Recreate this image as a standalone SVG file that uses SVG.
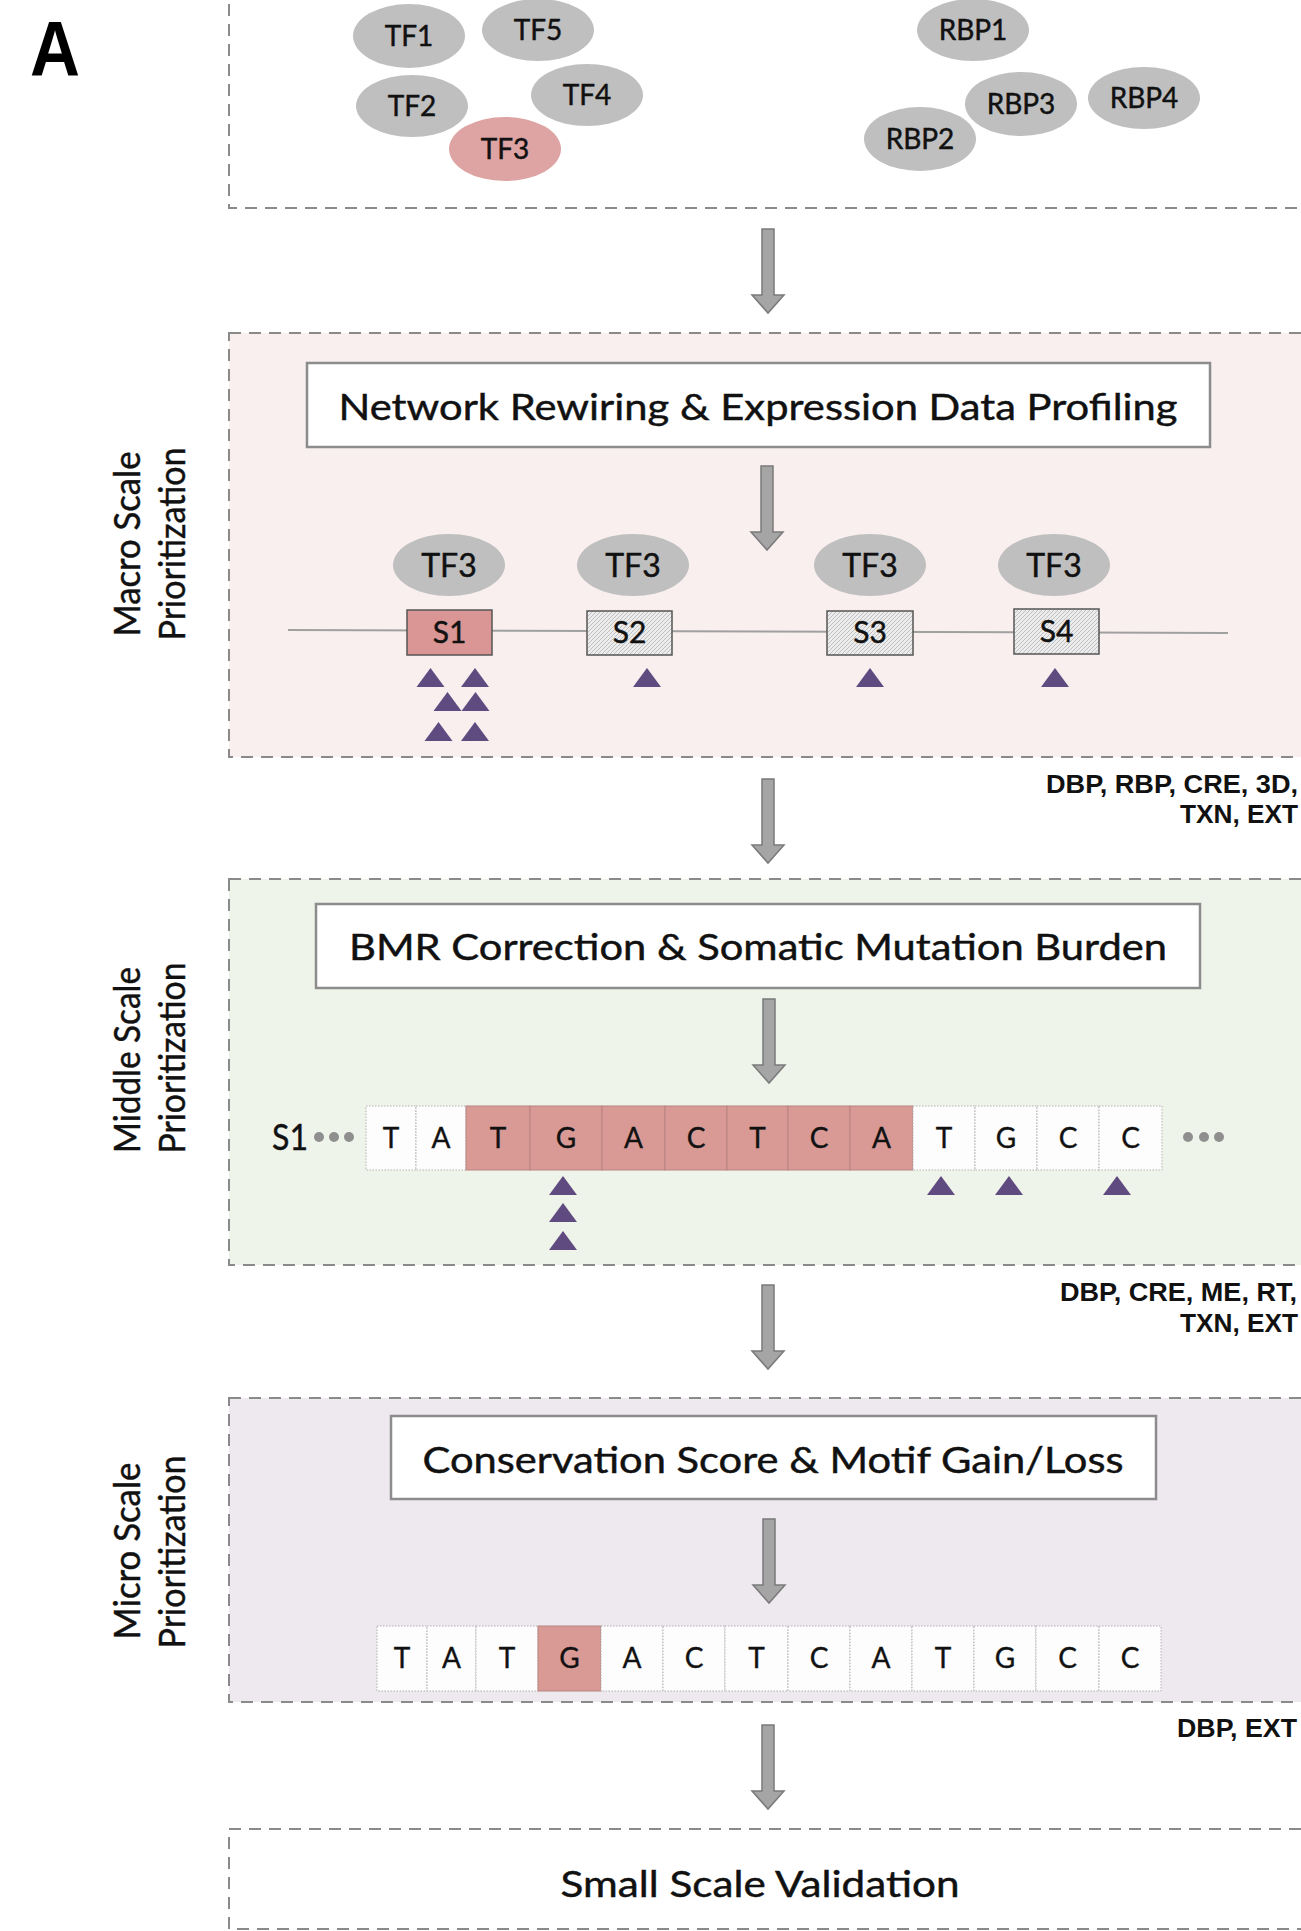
<svg xmlns="http://www.w3.org/2000/svg" xmlns:xlink="http://www.w3.org/1999/xlink" width="1301" height="1931" viewBox="0 0 1301 1931">
<style>
.panel{stroke:#8a8a8a;stroke-width:2;stroke-dasharray:12 8}
.title{fill:#fff;stroke:#8c8c8c;stroke-width:2.5}
.t{font-family:Lato,"Open Sans",sans-serif;fill:#111;stroke:#111;stroke-width:0.45}
.mid{text-anchor:middle}
.ell{fill:#bfbfbf}
.pinkell{fill:#dea3a3}
.side{font-family:"Liberation Sans",Arial,sans-serif;font-weight:bold;font-size:25px;text-anchor:end;fill:#111}
.cellw{fill:#fdfdfd;stroke:#b0b0b0;stroke-width:1;stroke-dasharray:1.5 1.5}
.cellp{fill:#d99a96;stroke:#b88480;stroke-width:1}
.seq{font-family:Lato,"Open Sans",sans-serif;font-size:28px;text-anchor:middle;fill:#111;stroke:#111;stroke-width:0.35}
.tri{fill:#5f4b80}
.dot{fill:#8f8f8f}
.arr{fill:#a5a5a5;stroke:#7a7a7a;stroke-width:1.5}
</style>
<defs>
<path id="arrow" d="M -6 0 H 6 V 66 H 16 L 0 84 L -16 66 H -6 Z"/>
<path id="tri" d="M -14 19 L 0 0 L 14 19 Z"/>
<pattern id="hatch" patternUnits="userSpaceOnUse" width="4" height="4">
<rect width="4" height="4" fill="#ececec"/>
<path d="M -1 1 L 1 -1 M 0 4 L 4 0 M 3 5 L 5 3" stroke="#b5b5b5" stroke-width="0.8"/>
</pattern>
</defs>
<rect width="1301" height="1931" fill="#fff"/>

<text x="30" y="76" font-family="Liberation Sans,Arial,sans-serif" font-weight="bold" font-size="78" textLength="50" lengthAdjust="spacingAndGlyphs" fill="#000">A</text>

<!-- panels -->
<g id="panel-top">
<rect class="panel" x="229" y="-20" width="1100" height="228" fill="#fff"/>
</g>
<g id="panel-macro">
<rect class="panel" x="229" y="333" width="1100" height="424" fill="#f9efef"/>
</g>
<g id="panel-middle">
<rect class="panel" x="229" y="879" width="1100" height="386" fill="#eff4ea"/>
</g>
<g id="panel-micro">
<rect class="panel" x="229" y="1398" width="1100" height="304" fill="#eee9ef"/>
</g>
<g id="panel-validation">
<rect class="panel" x="229" y="1829" width="1100" height="100" fill="#fff"/>
<text class="t mid" x="760" y="1897" font-size="37" textLength="399" lengthAdjust="spacingAndGlyphs">Small Scale Validation</text>
</g>

<!-- top proteins -->
<g id="tf1"><ellipse class="ell" cx="409" cy="36" rx="56" ry="32"/><text class="t mid" x="409" y="46" font-size="28">TF1</text></g>
<g id="tf5"><ellipse class="ell" cx="538" cy="30" rx="56" ry="31"/><text class="t mid" x="538" y="40" font-size="28">TF5</text></g>
<g id="tf2"><ellipse class="ell" cx="412" cy="106" rx="56" ry="31"/><text class="t mid" x="412" y="116" font-size="28">TF2</text></g>
<g id="tf4"><ellipse class="ell" cx="587" cy="95" rx="56" ry="31"/><text class="t mid" x="587" y="105" font-size="28">TF4</text></g>
<g id="tf3"><ellipse class="pinkell" cx="505" cy="149" rx="56" ry="32"/><text class="t mid" x="505" y="159" font-size="28">TF3</text></g>
<g id="rbp1"><ellipse class="ell" cx="973" cy="30" rx="56" ry="31"/><text class="t mid" x="973" y="40" font-size="28">RBP1</text></g>
<g id="rbp3"><ellipse class="ell" cx="1021" cy="104" rx="56" ry="32"/><text class="t mid" x="1021" y="114" font-size="28">RBP3</text></g>
<g id="rbp4"><ellipse class="ell" cx="1144" cy="98" rx="56" ry="31"/><text class="t mid" x="1144" y="108" font-size="28">RBP4</text></g>
<g id="rbp2"><ellipse class="ell" cx="920" cy="139" rx="56" ry="32"/><text class="t mid" x="920" y="149" font-size="28">RBP2</text></g>

<!-- side labels -->
<g id="label-macro">
<text class="t mid" transform="translate(140,544) rotate(-90)" font-size="36" textLength="185" lengthAdjust="spacingAndGlyphs">Macro Scale</text>
<text class="t mid" transform="translate(185,544) rotate(-90)" font-size="36" textLength="193" lengthAdjust="spacingAndGlyphs">Prioritization</text>
</g>
<g id="label-middle">
<text class="t mid" transform="translate(140,1060) rotate(-90)" font-size="36" textLength="186" lengthAdjust="spacingAndGlyphs">Middle Scale</text>
<text class="t mid" transform="translate(185,1058) rotate(-90)" font-size="36" textLength="191" lengthAdjust="spacingAndGlyphs">Prioritization</text>
</g>
<g id="label-micro">
<text class="t mid" transform="translate(140,1551) rotate(-90)" font-size="36" textLength="177" lengthAdjust="spacingAndGlyphs">Micro Scale</text>
<text class="t mid" transform="translate(185,1552) rotate(-90)" font-size="36" textLength="193" lengthAdjust="spacingAndGlyphs">Prioritization</text>
</g>

<!-- right annotations -->
<g id="annot-macro">
<text class="side" x="1298" y="793" textLength="252" lengthAdjust="spacingAndGlyphs">DBP, RBP, CRE, 3D,</text>
<text class="side" x="1298" y="823" textLength="118" lengthAdjust="spacingAndGlyphs">TXN, EXT</text>
</g>
<g id="annot-middle">
<text class="side" x="1297" y="1301" textLength="237" lengthAdjust="spacingAndGlyphs">DBP, CRE, ME, RT,</text>
<text class="side" x="1298" y="1332" textLength="118" lengthAdjust="spacingAndGlyphs">TXN, EXT</text>
</g>
<g id="annot-micro">
<text class="side" x="1297" y="1737" textLength="120" lengthAdjust="spacingAndGlyphs">DBP, EXT</text>
</g>

<!-- macro content -->
<g id="title-macro">
<rect class="title" x="307" y="363" width="903" height="84"/>
<text class="t mid" x="758" y="420" font-size="37" textLength="839" lengthAdjust="spacingAndGlyphs">Network Rewiring &amp; Expression Data Profiling</text>
</g>
<line x1="288" y1="630" x2="1228" y2="633" stroke="#a0a0a0" stroke-width="2"/>
<g id="tf3-s1"><ellipse class="ell" cx="449" cy="565" rx="56" ry="31"/><text class="t mid" x="449" y="577" font-size="32">TF3</text></g>
<g id="tf3-s2"><ellipse class="ell" cx="633" cy="565" rx="56" ry="31"/><text class="t mid" x="633" y="577" font-size="32">TF3</text></g>
<g id="tf3-s3"><ellipse class="ell" cx="870" cy="565" rx="56" ry="31"/><text class="t mid" x="870" y="577" font-size="32">TF3</text></g>
<g id="tf3-s4"><ellipse class="ell" cx="1054" cy="565" rx="56" ry="31"/><text class="t mid" x="1054" y="577" font-size="32">TF3</text></g>
<g id="s1"><rect x="407" y="610" width="85" height="45" fill="#d99694" stroke="#555" stroke-width="1.5"/><text class="t mid" x="449.5" y="643" font-size="30">S1</text></g>
<g id="s2"><rect x="587" y="611" width="85" height="44" fill="url(#hatch)" stroke="#555" stroke-width="1.5"/><text class="t mid" x="629.5" y="643" font-size="30">S2</text></g>
<g id="s3"><rect x="827" y="611" width="86" height="44" fill="url(#hatch)" stroke="#555" stroke-width="1.5"/><text class="t mid" x="870" y="643" font-size="30">S3</text></g>
<g id="s4"><rect x="1014" y="609" width="85" height="45" fill="url(#hatch)" stroke="#555" stroke-width="1.5"/><text class="t mid" x="1056.5" y="642" font-size="30">S4</text></g>
<g id="mutations-macro" class="tri">
<use href="#tri" x="430.5" y="668"/><use href="#tri" x="475" y="668"/>
<use href="#tri" x="447.5" y="692"/><use href="#tri" x="475.5" y="692"/>
<use href="#tri" x="438.5" y="722"/><use href="#tri" x="475" y="722"/>
<use href="#tri" x="647" y="668"/>
<use href="#tri" x="870" y="668"/>
<use href="#tri" x="1055" y="668"/>
</g>

<!-- middle content -->
<g id="title-middle">
<rect class="title" x="316" y="904" width="884" height="84"/>
<text class="t mid" x="758" y="960" font-size="37" textLength="818" lengthAdjust="spacingAndGlyphs">BMR Correction &amp; Somatic Mutation Burden</text>
</g>
<g id="seq-middle">
<text class="t" x="272" y="1150" font-size="36" textLength="36" lengthAdjust="spacingAndGlyphs">S1</text>
<circle class="dot" cx="319" cy="1137" r="5"/><circle class="dot" cx="334" cy="1137" r="5"/><circle class="dot" cx="349" cy="1137" r="5"/>
<rect class="cellw" x="366" y="1106" width="50" height="64"/>
<rect class="cellw" x="416" y="1106" width="50" height="64"/>
<rect class="cellp" x="466" y="1106" width="64" height="64"/>
<rect class="cellp" x="530" y="1106" width="72" height="64"/>
<rect class="cellp" x="602" y="1106" width="63" height="64"/>
<rect class="cellp" x="665" y="1106" width="62" height="64"/>
<rect class="cellp" x="727" y="1106" width="61" height="64"/>
<rect class="cellp" x="788" y="1106" width="62" height="64"/>
<rect class="cellp" x="850" y="1106" width="63" height="64"/>
<rect class="cellw" x="913" y="1106" width="62" height="64"/>
<rect class="cellw" x="975" y="1106" width="62" height="64"/>
<rect class="cellw" x="1037" y="1106" width="62" height="64"/>
<rect class="cellw" x="1099" y="1106" width="63" height="64"/>
<text class="seq" x="391" y="1148">T</text>
<text class="seq" x="441" y="1148">A</text>
<text class="seq" x="498" y="1148">T</text>
<text class="seq" x="566" y="1148">G</text>
<text class="seq" x="633.5" y="1148">A</text>
<text class="seq" x="696" y="1148">C</text>
<text class="seq" x="757.5" y="1148">T</text>
<text class="seq" x="819" y="1148">C</text>
<text class="seq" x="881.5" y="1148">A</text>
<text class="seq" x="944" y="1148">T</text>
<text class="seq" x="1006" y="1148">G</text>
<text class="seq" x="1068" y="1148">C</text>
<text class="seq" x="1130.5" y="1148">C</text>
<circle class="dot" cx="1188" cy="1137" r="5"/><circle class="dot" cx="1204" cy="1137" r="5"/><circle class="dot" cx="1219" cy="1137" r="5"/>
</g>
<g id="mutations-middle" class="tri">
<use href="#tri" x="563" y="1176"/><use href="#tri" x="563" y="1203"/><use href="#tri" x="563" y="1231"/>
<use href="#tri" x="941" y="1176"/>
<use href="#tri" x="1009" y="1176"/>
<use href="#tri" x="1117" y="1176"/>
</g>

<!-- micro content -->
<g id="title-micro">
<rect class="title" x="391" y="1416" width="765" height="83"/>
<text class="t mid" x="773" y="1473" font-size="37" textLength="701" lengthAdjust="spacingAndGlyphs">Conservation Score &amp; Motif Gain/Loss</text>
</g>
<g id="seq-micro">
<rect class="cellw" x="377" y="1626" width="50" height="65"/>
<rect class="cellw" x="427" y="1626" width="49" height="65"/>
<rect class="cellw" x="476" y="1626" width="62" height="65"/>
<rect class="cellp" x="538" y="1626" width="63" height="65"/>
<rect class="cellw" x="601" y="1626" width="62" height="65"/>
<rect class="cellw" x="663" y="1626" width="62" height="65"/>
<rect class="cellw" x="725" y="1626" width="63" height="65"/>
<rect class="cellw" x="788" y="1626" width="62" height="65"/>
<rect class="cellw" x="850" y="1626" width="62" height="65"/>
<rect class="cellw" x="912" y="1626" width="62" height="65"/>
<rect class="cellw" x="974" y="1626" width="62" height="65"/>
<rect class="cellw" x="1036" y="1626" width="63" height="65"/>
<rect class="cellw" x="1099" y="1626" width="62" height="65"/>
<text class="seq" x="402" y="1668">T</text>
<text class="seq" x="451.5" y="1668">A</text>
<text class="seq" x="507" y="1668">T</text>
<text class="seq" x="569.5" y="1668">G</text>
<text class="seq" x="632" y="1668">A</text>
<text class="seq" x="694" y="1668">C</text>
<text class="seq" x="756.5" y="1668">T</text>
<text class="seq" x="819" y="1668">C</text>
<text class="seq" x="881" y="1668">A</text>
<text class="seq" x="943" y="1668">T</text>
<text class="seq" x="1005" y="1668">G</text>
<text class="seq" x="1067.5" y="1668">C</text>
<text class="seq" x="1130" y="1668">C</text>
</g>

<!-- connectors -->
<g id="connectors" class="arr">
<use href="#arrow" x="768" y="229"/>
<use href="#arrow" x="767" y="466"/>
<use href="#arrow" x="768" y="779"/>
<use href="#arrow" x="769" y="999"/>
<use href="#arrow" x="768" y="1285"/>
<use href="#arrow" x="769" y="1519"/>
<use href="#arrow" x="768" y="1725"/>
</g>
</svg>
